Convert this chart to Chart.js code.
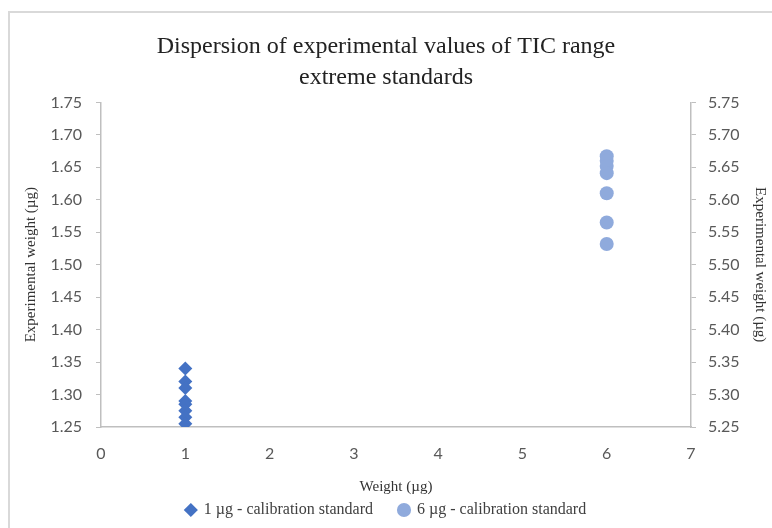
<!DOCTYPE html>
<html>
<head>
<meta charset="utf-8">
<script src="https://cdn.jsdelivr.net/npm/chart.js@4.4.1/dist/chart.umd.min.js"></script>
<style>
  html, body { margin: 0; padding: 0; background: #fff; }
  #wrap { width: 772px; height: 528px; }
</style>
</head>
<body>
<div id="wrap"><canvas id="dispersionChart"></canvas></div>
<script>
// values
const oneUgX = [1, 1, 1, 1, 1, 1, 1, 1];
const oneUgY = [1.34, 1.32, 1.31, 1.29, 1.285, 1.275, 1.265, 1.255];
const sixUgX = [6, 6, 6, 6, 6, 6, 6];
const sixUgY = [5.667, 5.66, 5.652, 5.641, 5.61, 5.565, 5.532];
const seriesNames = ["1 µg - calibration standard", "6 µg - calibration standard"];
const chartTitle = ["Dispersion of experimental values of TIC range", "extreme standards"];

const tickFont = { family: "Lato", size: 16 };
const serif = "'Liberation Serif', 'Times New Roman', serif";
const axisGray = "#BFBFBF";

function toPoints(xs, ys) {
    return xs.map((x, i) => ({ x: x, y: ys[i] }));
}

// light grey frame like the Excel chart area
const framePlugin = {
    id: "frame",
    beforeDraw(chart) {
        const ctx = chart.ctx;
        ctx.save();
        ctx.fillStyle = "#fff";
        ctx.fillRect(0, 0, chart.width, chart.height);
        ctx.strokeStyle = "#D9D9D9";
        ctx.lineWidth = 2;
        ctx.beginPath();
        ctx.moveTo(9, chart.height);
        ctx.lineTo(9, 12);
        ctx.lineTo(chart.width, 12);
        ctx.stroke();
        ctx.restore();
    }
};

new Chart(document.getElementById("dispersionChart"), {
    type: "scatter",
    data: {
        datasets: [{
            label: seriesNames[0],
            data: toPoints(oneUgX, oneUgY),
            yAxisID: "y",
            pointStyle: "rectRot",
            pointRadius: 7,
            pointHoverRadius: 7,
            backgroundColor: "#4472C4",
            borderColor: "#4472C4",
            borderWidth: 0
        }, {
            label: seriesNames[1],
            data: toPoints(sixUgX, sixUgY),
            yAxisID: "y2",
            pointStyle: "circle",
            pointRadius: 7,
            pointHoverRadius: 7,
            backgroundColor: "#8FAADC",
            borderColor: "#8FAADC",
            borderWidth: 0
        }]
    },
    options: {
        responsive: true,
        maintainAspectRatio: false,
        animation: false,
        layout: { padding: { left: 0, right: 0, top: 0, bottom: 0 } },
        plugins: {
            title: {
                display: true,
                text: chartTitle,
                color: "#222",
                font: { family: serif, size: 24, weight: "normal", lineHeight: 1.3 },
                padding: { top: 31, bottom: 9 }
            },
            legend: {
                position: "bottom",
                labels: {
                    usePointStyle: true,
                    boxWidth: 10,
                    boxHeight: 10,
                    padding: 6,
                    color: "#404040",
                    font: { family: serif, size: 16 },
                    // pad the text so the two entries sit apart like the original
                    generateLabels: chart => {
                        const items = Chart.defaults.plugins.legend.labels.generateLabels(chart);
                        items.forEach((it, i) => { if (i === 0) it.text += "     "; });
                        return items;
                    }
                }
            },
            tooltip: { enabled: false }
        },
        scales: {
            x: {
                type: "linear",
                position: "bottom",
                min: 0,
                max: 7,
                afterFit: s => { s.height = 69; },
                ticks: { stepSize: 1, color: "#595959", font: tickFont, padding: 17 },
                grid: { drawOnChartArea: false, drawTicks: false },
                border: { color: axisGray, width: 1.5 },
                title: {
                    display: true,
                    text: "Weight (µg)",
                    color: "#333",
                    font: { family: serif, size: 15 },
                    padding: { top: 4, bottom: 0 }
                }
            },
            y: {
                position: "left",
                min: 1.25,
                max: 1.75,
                afterFit: s => { s.width = 101; },
                ticks: { stepSize: 0.05, color: "#595959", font: tickFont, padding: 14,
                    callback: v => v.toFixed(2) },
                grid: { drawOnChartArea: false, tickLength: 5, color: axisGray },
                border: { color: axisGray, width: 1.5 },
                title: {
                    display: true,
                    text: "Experimental weight (µg)",
                    color: "#333",
                    font: { family: serif, size: 15 },
                    padding: { top: 22, bottom: 0 }
                }
            },
            y2: {
                position: "right",
                min: 5.25,
                max: 5.75,
                afterFit: s => { s.width = 81; },
                ticks: { stepSize: 0.05, color: "#595959", font: tickFont, padding: 12,
                    callback: v => v.toFixed(2) },
                grid: { drawOnChartArea: false, tickLength: 5, color: axisGray },
                border: { color: axisGray, width: 1.5 },
                title: {
                    display: true,
                    text: "Experimental weight (µg)",
                    color: "#333",
                    font: { family: serif, size: 15 },
                    padding: { top: 3, bottom: 0 }
                }
            }
        }
    },
    plugins: [framePlugin]
});
</script>
</body>
</html>
